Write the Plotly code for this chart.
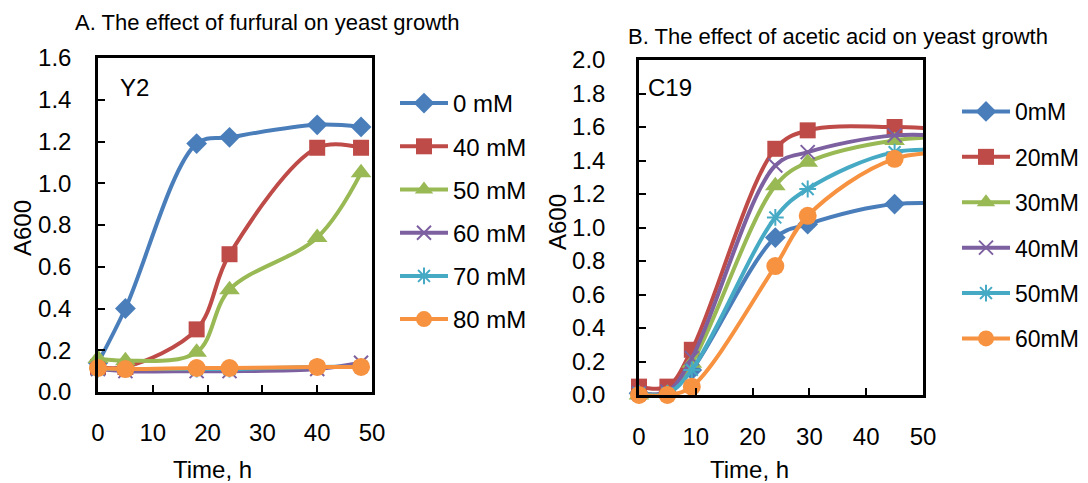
import plotly.graph_objects as go

# The page body adds an 8 px margin, so the figure is 8 px smaller and
# all pixel positions below are given in window coordinates.
OFF = 8
W, H = 1088 - OFF, 483 - OFF

# ---------------- Data ----------------
# Panel A: furfural (Y2)
time_a = [0, 5, 18, 24, 40, 48]
labels_a = ["0 mM", "40 mM", "50 mM", "60 mM", "70 mM", "80 mM"]
a_0mM = [0.14, 0.40, 1.19, 1.22, 1.28, 1.27]
a_40mM = [0.12, 0.12, 0.30, 0.66, 1.17, 1.17]
a_50mM = [0.16, 0.15, 0.19, 0.49, 0.74, 1.05]
a_60mM = [0.11, 0.10, 0.10, 0.10, 0.11, 0.14]
a_70mM = [0.11, 0.11, 0.11, 0.11, 0.12, 0.12]
a_80mM = [0.115, 0.11, 0.115, 0.115, 0.12, 0.12]
series_a = [a_0mM, a_40mM, a_50mM, a_60mM, a_70mM, a_80mM]

# Panel B: acetic acid (C19); last sample lies beyond the 50 h axis end
time_b = [0, 5, 9.3, 24, 29.7, 45, 60]
labels_b = ["0mM", "20mM", "30mM", "40mM", "50mM", "60mM"]
b_0mM = [0.01, 0.01, 0.15, 0.94, 1.02, 1.14, 1.13]
b_20mM = [0.05, 0.05, 0.27, 1.47, 1.58, 1.60, 1.57]
b_30mM = [0.00, 0.01, 0.19, 1.25, 1.39, 1.52, 1.54]
b_40mM = [0.01, 0.02, 0.22, 1.37, 1.45, 1.55, 1.53]
b_50mM = [0.01, 0.01, 0.15, 1.06, 1.23, 1.45, 1.44]
b_60mM = [0.00, 0.00, 0.05, 0.77, 1.07, 1.41, 1.44]
series_b = [b_0mM, b_20mM, b_30mM, b_40mM, b_50mM, b_60mM]

x_ticks = [0, 10, 20, 30, 40, 50]

# ---------------- Styles ----------------
colors = ["#4A7EBB", "#BE4B48", "#98B954", "#7D60A0", "#46AAC5", "#F69240"]
symbols = ["diamond", "square", "triangle-up", "x-thin", "asterisk", "circle"]
msizes = [16, 16, 18, 14, 14, 18]
FONT = "Arial, Liberation Sans, sans-serif"


def px(x):
    return (x - OFF) / W


def py(y):
    return 1 - (y - OFF) / H


def marker_style(i, sizes):
    thin = symbols[i] in ("x-thin", "asterisk")
    return dict(
        symbol=symbols[i], size=sizes, color=colors[i], opacity=1,
        line=dict(color=colors[i], width=2 if thin else 0),
    )


fig = go.Figure()

# Panel A traces
for i, (lab, ys) in enumerate(zip(labels_a, series_a)):
    fig.add_trace(go.Scatter(
        x=time_a, y=ys, mode="lines+markers", name=lab,
        line=dict(color=colors[i], width=4, shape="spline", smoothing=1),
        marker=marker_style(i, msizes[i]), cliponaxis=False,
        xaxis="x", yaxis="y", showlegend=False,
    ))
# Panel B traces (hide marker of the beyond-range sample)
for i, (lab, ys) in enumerate(zip(labels_b, series_b)):
    sizes = [msizes[i]] * (len(time_b) - 1) + [0]
    fig.add_trace(go.Scatter(
        x=time_b, y=ys, mode="lines+markers", name=lab,
        line=dict(color=colors[i], width=4, shape="spline", smoothing=1),
        marker=marker_style(i, sizes), cliponaxis=False,
        xaxis="x2", yaxis="y2", showlegend=False,
    ))

# Legend entries
for i, lab in enumerate(labels_a):
    fig.add_trace(go.Scatter(
        x=[None], y=[None], mode="lines+markers", name=lab,
        line=dict(color=colors[i], width=4), marker=marker_style(i, msizes[i]),
        xaxis="x", yaxis="y", legend="legend", legendgroup="a%d" % i,
    ))
for i, lab in enumerate(labels_b):
    fig.add_trace(go.Scatter(
        x=[None], y=[None], mode="lines+markers", name=lab,
        line=dict(color=colors[i], width=4), marker=marker_style(i, msizes[i]),
        xaxis="x2", yaxis="y2", legend="legend2", legendgroup="b%d" % i,
    ))

axis_common = dict(
    showgrid=False, zeroline=False, showline=True, linecolor="black",
    linewidth=2.5, mirror=True, ticks="inside", ticklen=7, tickwidth=1.5,
    tickcolor="black", tickfont=dict(family=FONT, size=24, color="black"),
)

fig.update_layout(
    width=W, height=H, autosize=False,
    margin=dict(l=0, r=0, t=0, b=0, autoexpand=False),
    paper_bgcolor="white", plot_bgcolor="white",
    font=dict(family=FONT, size=24, color="black"),
    xaxis=dict(domain=[px(98), px(372)], range=[0, 50], tickvals=x_ticks,
               anchor="y", ticklabelstandoff=17, **axis_common),
    yaxis=dict(domain=[py(392), py(58)], range=[0, 1.6], dtick=0.2,
               tickformat=".1f", anchor="x", ticklabelstandoff=19, **axis_common),
    xaxis2=dict(domain=[px(639), px(923)], range=[0, 50], tickvals=x_ticks,
                anchor="y2", ticklabelstandoff=18, **axis_common),
    yaxis2=dict(domain=[py(395), py(60)], range=[0, 2.0], dtick=0.2,
                tickformat=".1f", anchor="x2", ticklabelstandoff=26, **axis_common),
    legend=dict(x=px(395), y=py(81), xanchor="left", yanchor="top",
                font=dict(family=FONT, size=24), itemwidth=48,
                tracegroupgap=9, bgcolor="rgba(0,0,0,0)"),
    legend2=dict(x=px(957), y=py(90), xanchor="left", yanchor="top",
                 font=dict(family=FONT, size=23), itemwidth=48,
                 tracegroupgap=12.5, bgcolor="rgba(0,0,0,0)"),
    showlegend=True,
)

ann = [
    dict(text="A. The effect of furfural on yeast growth", x=px(267), y=py(23), size=22),
    dict(text="B. The effect of acetic acid on yeast growth", x=px(838), y=py(36), size=22),
    dict(text="Y2", x=px(134), y=py(88), size=24),
    dict(text="C19", x=px(670), y=py(88), size=24),
    dict(text="Time, h", x=px(212), y=py(469), size=24),
    dict(text="Time, h", x=px(749), y=py(469), size=24),
]
for a in ann:
    fig.add_annotation(text=a["text"], x=a["x"], y=a["y"], xref="paper", yref="paper",
                       xanchor="center", yanchor="middle", showarrow=False,
                       font=dict(family=FONT, size=a["size"], color="black"))
for xx, yy in [(22, 228), (557, 222)]:
    fig.add_annotation(text="A600", x=px(xx), y=py(yy), xref="paper", yref="paper",
                       xanchor="center", yanchor="middle", showarrow=False, textangle=-90,
                       font=dict(family=FONT, size=24, color="black"))

fig.write_html("out.html")
